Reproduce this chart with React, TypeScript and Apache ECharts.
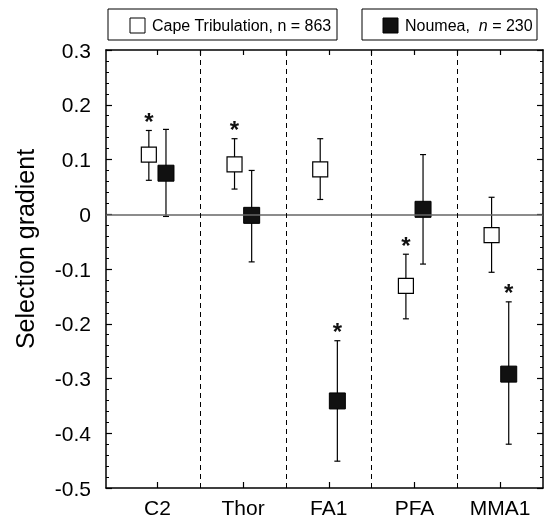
import React, { useEffect, useRef } from "react";
import * as echarts from "echarts";

const categories = ["C2", "Thor", "FA1", "PFA", "MMA1"];
const capeMean = [0.109, 0.091, 0.082, -0.131, -0.038];
const capeLow = [0.062, 0.046, 0.027, -0.191, -0.106];
const capeHigh = [0.153, 0.138, 0.138, -0.073, 0.031];
const capeSig = [1, 1, 0, 1, 0];
const noumeaMean = [0.075, -0.002, -0.341, 0.009, -0.292];
const noumeaLow = [-0.004, -0.087, -0.451, -0.091, -0.42];
const noumeaHigh = [0.155, 0.08, -0.231, 0.109, -0.16];
const noumeaSig = [0, 0, 1, 0, 1];
const yTicks = [-0.5, -0.4, -0.3, -0.2, -0.1, 0, 0.1, 0.2, 0.3];
const separators = [1.5, 2.5, 3.5, 4.5];

const FONT = "'Liberation Sans', Arial, Helvetica, sans-serif";
const OFFSET = 0.1;

export default function App() {
  const ref = useRef<HTMLDivElement>(null);
  useEffect(() => {
    if (!ref.current) return;
    const chart = echarts.init(ref.current, null, { renderer: "svg" });
    const catPos = categories.map((_, i) => i + 1);
    const renderErr = (params: any, api: any) => {
      const x = api.value(0);
      const lo = api.value(1);
      const hi = api.value(2);
      const sig = api.value(3);
      const pLo = api.coord([x, lo]);
      const pHi = api.coord([x, hi]);
      const cap = 3;
      const ls = { stroke: "#000", lineWidth: 1.2 };
      const children: any[] = [
        { type: "line", shape: { x1: pLo[0], y1: pLo[1], x2: pHi[0], y2: pHi[1] }, style: ls },
        { type: "line", shape: { x1: pLo[0] - cap, y1: pLo[1], x2: pLo[0] + cap, y2: pLo[1] }, style: ls },
        { type: "line", shape: { x1: pHi[0] - cap, y1: pHi[1], x2: pHi[0] + cap, y2: pHi[1] }, style: ls },
      ];
      if (sig) {
        children.push({
          type: "text",
          style: {
            text: "*",
            x: pHi[0],
            y: pHi[1] - 9,
            align: "center",
            verticalAlign: "middle",
            fontSize: 24,
            fontFamily: FONT,
            fontWeight: "bold",
            fill: "#111",
          },
        });
      }
      return { type: "group", children };
    };
    const axisLineStyle = { color: "#000", width: 1.5 };
    chart.setOption({
      animation: false,
      grid: { left: 106, right: 1, top: 50, bottom: 31 },
      xAxis: [
        {
          type: "value",
          position: "bottom",
          min: 0.4,
          max: 5.5,
          splitLine: { show: false },
          axisLine: { onZero: false, lineStyle: axisLineStyle },
          axisTick: { inside: true, length: 6, customValues: catPos, lineStyle: { color: "#000", width: 1.2 } },
          axisLabel: {
            customValues: catPos,
            formatter: (v: number) => categories[Math.round(v) - 1] || "",
            fontSize: 21,
            fontFamily: FONT,
            color: "#000",
            margin: 9,
          },
        },
        {
          type: "value",
          position: "top",
          min: 0.4,
          max: 5.5,
          splitLine: { show: false },
          axisLine: { onZero: false, lineStyle: axisLineStyle },
          axisTick: {
            inside: true,
            length: 5,
            customValues: [1, 1.5, 2, 2.5, 3, 3.5, 4, 4.5, 5],
            lineStyle: { color: "#000", width: 1.2 },
          },
          axisLabel: { show: false },
        },
      ],
      yAxis: [
        {
          type: "value",
          position: "left",
          min: -0.5,
          max: 0.3,
          interval: 0.1,
          splitLine: { show: false },
          axisLine: { onZero: false, lineStyle: axisLineStyle },
          axisTick: { inside: true, length: 6, lineStyle: { color: "#000", width: 1.2 } },
          minorTick: { show: true, splitNumber: 5, length: 3, lineStyle: { color: "#000", width: 1 } },
          axisLabel: {
            fontSize: 21,
            fontFamily: FONT,
            color: "#000",
            margin: 15,
            customValues: yTicks,
            formatter: (v: number) => (Math.abs(v) < 1e-9 ? "0" : String(Math.round(v * 10) / 10)),
          },
        },
        {
          type: "value",
          position: "right",
          min: -0.5,
          max: 0.3,
          interval: 0.1,
          splitLine: { show: false },
          axisLine: { onZero: false, lineStyle: axisLineStyle },
          axisTick: { inside: true, length: 6, lineStyle: { color: "#000", width: 1.2 } },
          minorTick: { show: true, splitNumber: 5, length: 3, lineStyle: { color: "#000", width: 1 } },
          axisLabel: { show: false },
        },
      ],
      series: [
        {
          type: "custom",
          name: "capeErr",
          xAxisIndex: 0,
          yAxisIndex: 0,
          z: 2,
          silent: true,
          renderItem: renderErr,
          clip: false,
          data: categories.map((_, i) => [i + 1 - OFFSET, capeLow[i], capeHigh[i], capeSig[i]]),
          markLine: {
            silent: true,
            symbol: ["none", "none"],
            label: { show: false },
            animation: false,
            data: [
              { yAxis: 0, lineStyle: { color: "#666", width: 1.5, type: "solid" } },
              ...separators.map((s) => ({ xAxis: s, lineStyle: { color: "#000", width: 1, type: [5, 4] } })),
            ],
          },
        },
        {
          type: "custom",
          name: "noumeaErr",
          xAxisIndex: 0,
          yAxisIndex: 0,
          z: 2,
          silent: true,
          renderItem: renderErr,
          clip: false,
          data: categories.map((_, i) => [i + 1 + OFFSET, noumeaLow[i], noumeaHigh[i], noumeaSig[i]]),
        },
        {
          type: "scatter",
          name: "Cape Tribulation",
          z: 3,
          symbol: "rect",
          symbolSize: 15,
          itemStyle: { color: "#fff", borderColor: "#000", borderWidth: 1.2, opacity: 1 },
          data: categories.map((_, i) => [i + 1 - OFFSET, capeMean[i]]),
        },
        {
          type: "scatter",
          name: "Noumea",
          z: 3,
          symbol: "rect",
          symbolSize: 16,
          itemStyle: { color: "#111", borderColor: "#000", borderWidth: 1, opacity: 1 },
          data: categories.map((_, i) => [i + 1 + OFFSET, noumeaMean[i]]),
        },
      ],
      graphic: [
        {
          type: "text",
          x: 25,
          y: 249,
          rotation: Math.PI / 2,
          style: {
            text: "Selection gradient",
            x: 0,
            y: 0,
            align: "center",
            verticalAlign: "middle",
            fontSize: 25,
            fontFamily: FONT,
            fill: "#000",
          },
        },
        { type: "rect", shape: { x: 108, y: 9, width: 229, height: 31 }, style: { fill: "#fff", stroke: "#000", lineWidth: 1 } },
        { type: "rect", shape: { x: 130, y: 18, width: 15, height: 15 }, style: { fill: "#fff", stroke: "#000", lineWidth: 1 } },
        {
          type: "text",
          style: {
            text: "Cape Tribulation, n = 863",
            x: 152,
            y: 25,
            verticalAlign: "middle",
            fontSize: 16,
            fontFamily: FONT,
            fill: "#000",
          },
        },
        { type: "rect", shape: { x: 362, y: 9, width: 175, height: 31 }, style: { fill: "#fff", stroke: "#000", lineWidth: 1 } },
        { type: "rect", shape: { x: 383, y: 18, width: 15, height: 15 }, style: { fill: "#111", stroke: "#000", lineWidth: 1 } },
        {
          type: "text",
          style: {
            text: "{a|Noumea,  }{b|n}{a| = 230}",
            x: 405,
            y: 25,
            verticalAlign: "middle",
            fontSize: 16,
            fontFamily: FONT,
            fill: "#000",
            rich: {
              a: { fontSize: 16, fontFamily: FONT, fill: "#000" },
              b: { fontSize: 16, fontFamily: FONT, fontStyle: "italic", fill: "#000" },
            },
          },
        },
      ],
    });
    return () => chart.dispose();
  }, []);
  return <div ref={ref} style={{ position: "fixed", left: 0, top: 0, width: 544, height: 519 }} />;
}
